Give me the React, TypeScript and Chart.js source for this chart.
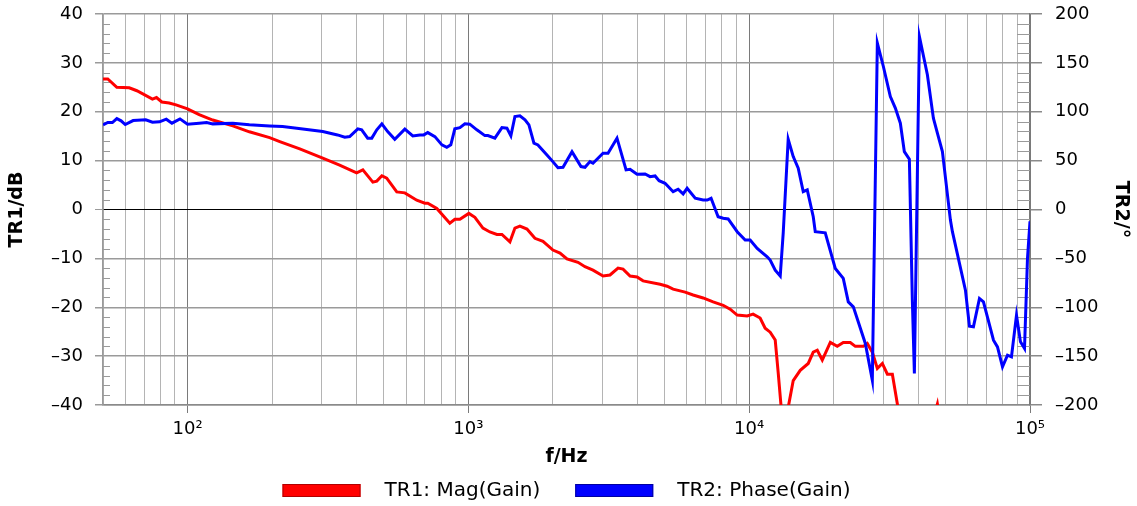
import { useEffect, useRef } from 'react';
import { Chart, registerables } from 'chart.js';

Chart.register(...registerables);

const FONT = "'DejaVu Sans', sans-serif";

// TR1: magnitude (dB) trace
const magFreqHz = [50, 52, 56, 62, 66, 75, 77.5, 81, 86, 91, 100, 110, 123, 145, 166, 196, 213, 251, 303, 348, 400, 421, 457, 472, 492, 512, 556, 594, 655, 700, 717, 772, 859, 895, 933, 1004, 1055, 1127, 1193, 1264, 1317, 1406, 1465, 1526, 1617, 1726, 1844, 2001, 2120, 2245, 2457, 2602, 2779, 3017, 3195, 3412, 3555, 3766, 3988, 4189, 4817, 5102, 5360, 5914, 6314, 6855, 7440, 8079, 8556, 9064, 9837, 10330, 10940, 11400, 11880, 12380, 12690, 13000, 13330, 13770, 14350, 15200, 16230, 16910, 17480, 18210, 19450, 20590, 21630, 22910, 23880, 25490, 26340, 27450, 28600, 29800, 31050, 32350, 33980, 39070, 44190, 46800, 49960, 78490, 100000];
const magDb = [26.7, 26.7, 25.0, 24.9, 24.3, 22.6, 22.9, 22.0, 21.8, 21.4, 20.6, 19.4, 18.3, 17.1, 15.9, 14.7, 13.9, 12.4, 10.5, 9.1, 7.5, 8.1, 5.6, 5.8, 6.9, 6.4, 3.6, 3.4, 1.9, 1.3, 1.3, 0.2, -2.8, -2.0, -2.0, -0.8, -1.6, -3.8, -4.6, -5.1, -5.1, -6.6, -3.8, -3.4, -4.0, -5.9, -6.5, -8.3, -8.9, -10.1, -10.8, -11.7, -12.4, -13.6, -13.4, -12.0, -12.2, -13.6, -13.8, -14.6, -15.3, -15.7, -16.3, -16.9, -17.5, -18.1, -18.9, -19.6, -20.4, -21.6, -21.8, -21.4, -22.2, -24.3, -25.1, -26.7, -33.5, -40.5, -60, -40.5, -35, -32.9, -31.5, -29.2, -28.8, -30.8, -27.2, -28.0, -27.2, -27.2, -28, -28, -27.4, -29.2, -32.5, -31.5, -33.7, -33.7, -41, -55, -45, -39.8, -50, -55, -55];

// TR2: phase (degrees) trace
const phaseFreqHz = [50, 52, 54, 56, 58, 60, 64, 71, 75, 79.5, 84, 88, 94, 100, 110, 117, 123, 145, 166, 196, 218, 245, 303, 342, 363, 378, 404, 417, 438, 453, 472, 492, 516, 547, 594, 634, 672, 694, 717, 760, 805, 838, 866, 895, 933, 972, 1012, 1072, 1145, 1174, 1243, 1317, 1372, 1417, 1465, 1526, 1591, 1643, 1712, 1769, 1905, 1985, 2085, 2173, 2339, 2397, 2518, 2602, 2711, 2779, 3017, 3143, 3383, 3644, 3766, 3988, 4258, 4437, 4623, 4777, 5018, 5360, 5584, 5818, 6012, 6424, 6855, 7086, 7318, 7751, 8079, 8417, 9064, 9676, 10080, 10680, 11590, 11880, 12380, 12900, 13220, 13770, 14350, 14950, 15580, 16100, 16910, 17190, 18660, 20260, 21630, 22540, 23490, 25920, 27450, 28600, 30050, 31820, 33150, 34540, 35690, 37190, 38110, 38750, 40380, 43110, 45290, 46800, 48760, 52070, 52930, 58900, 60860, 62890, 66070, 68270, 74130, 76590, 79810, 83150, 85900, 89520, 92490, 95590, 97960, 100000];
const phaseDeg = [86.6, 89, 89, 93, 90.7, 86.9, 91, 91.7, 89.3, 89.7, 92.4, 88.3, 92.7, 87.3, 88.3, 88.9, 87.6, 88.3, 86.6, 85.5, 84.8, 83.2, 79.7, 76.3, 74, 74.6, 82.5, 81.5, 73, 73, 81.5, 87.6, 79.7, 71.9, 82.2, 75.3, 76.3, 76.3, 78.7, 74.6, 66.1, 63.7, 66.1, 82.5, 83.8, 87.6, 87.3, 81.5, 75.6, 75.6, 73, 83.8, 83.2, 75.3, 95.1, 95.8, 91.7, 86.6, 67.8, 66.1, 55.8, 50, 42.8, 43.2, 59.2, 54.1, 43.9, 43.2, 49, 47.3, 57.6, 57.6, 73, 40.5, 41.2, 36.1, 36.4, 33.6, 34.3, 29.5, 26.8, 18.2, 20.7, 15.9, 21.7, 11.5, 9.7, 9.7, 11.5, -7.4, -9.0, -9.7, -22.7, -31.3, -31.3, -39.8, -48.4, -51.7, -62, -68.1, -24, 71.9, 54.1, 42.2, 18.2, 20, -7.4, -22.7, -23.8, -60.3, -70.5, -94.5, -99.6, -137, -174.7, 170.3, 146.3, 115.6, 103.7, 88.3, 59.2, 51.4, -92.7, -167.8, 177, 137.8, 93.4, 78.1, 59.2, -10.8, -22.7, -82.5, -119.4, -120, -91, -94.5, -133.7, -140.6, -161, -149, -150.8, -108.1, -135.4, -142.2, -50, -12];

// Axis ticks
const xTickValues = [50, 60, 70, 80, 90, 100, 200, 300, 400, 500, 600, 700, 800, 900, 1000, 2000, 3000, 4000, 5000, 6000, 7000, 8000, 9000, 10000, 20000, 30000, 40000, 50000, 60000, 70000, 80000, 90000, 100000];
const decadeValues = [100, 1000, 10000, 100000];
const decadeLabels = ['10²', '10³', '10⁴', '10⁵'];
const magMinorTicks = [-38, -36, -34, -32, -28, -26, -24, -22, -18, -16, -14, -12, -8, -6, -4, -2, 2, 4, 6, 8, 12, 14, 16, 18, 22, 24, 26, 28, 32, 34, 36, 38];
const phaseMinorTicks = [-190, -180, -170, -160, -140, -130, -120, -110, -90, -80, -70, -60, -40, -30, -20, -10, 10, 20, 30, 40, 60, 70, 80, 90, 110, 120, 130, 140, 160, 170, 180, 190];

const MAG_LABEL = 'TR1: Mag(Gain)';
const PHASE_LABEL = 'TR2: Phase(Gain)';

const fmtSigned = (v: number) => (v < 0 ? '\u2013' + Math.abs(v) : String(v));
const isDecade = (v: number) => decadeValues.indexOf(v) >= 0;

const extrasPlugin = {
  id: 'extras',
  beforeDatasetsDraw(chart: any) {
    const { ctx, chartArea, scales } = chart;
    ctx.save();
    ctx.strokeStyle = '#9a9a9a';
    ctx.lineWidth = 1;
    for (const v of magMinorTicks) {
      const py = Math.round(scales.y.getPixelForValue(v)) + 0.5;
      ctx.beginPath();
      ctx.moveTo(chartArea.left, py);
      ctx.lineTo(chartArea.left + 7, py);
      ctx.stroke();
    }
    for (const v of phaseMinorTicks) {
      const py = Math.round(scales.y2.getPixelForValue(v)) + 0.5;
      ctx.beginPath();
      ctx.moveTo(chartArea.right - 13, py);
      ctx.lineTo(chartArea.right, py);
      ctx.stroke();
    }
    ctx.restore();
  },
  afterDraw(chart: any) {
    const { ctx, chartArea } = chart;
    const items = [
      { text: MAG_LABEL, color: '#ff0000', stroke: '#b00000' },
      { text: PHASE_LABEL, color: '#0000ff', stroke: '#0000a0' },
    ];
    const boxW = 78;
    const boxH = 13;
    const gap = 24;
    const itemGap = 35;
    ctx.save();
    ctx.font = `20px ${FONT}`;
    const widths = items.map((it) => ctx.measureText(it.text).width);
    const total = items.reduce((s, _it, i) => s + boxW + gap + widths[i], 0) + itemGap * (items.length - 1);
    let x = (chartArea.left + chartArea.right) / 2 - total / 2;
    const cy = 490.5;
    items.forEach((it, i) => {
      ctx.fillStyle = it.color;
      ctx.fillRect(x, cy - boxH / 2, boxW, boxH);
      ctx.strokeStyle = it.stroke;
      ctx.lineWidth = 1;
      ctx.strokeRect(x + 0.5, cy - boxH / 2 + 0.5, boxW - 1, boxH - 1);
      ctx.fillStyle = '#000';
      ctx.textBaseline = 'middle';
      ctx.textAlign = 'left';
      ctx.fillText(it.text, x + boxW + gap, cy);
      x += boxW + gap + widths[i] + itemGap;
    });
    ctx.restore();
  },
};

const fitVertical = (width: number) => (s: any) => {
  s.width = width;
  s.paddingTop = 0;
  s.paddingBottom = 0;
};

export default function App() {
  const canvasRef = useRef<HTMLCanvasElement | null>(null);

  useEffect(() => {
    const canvas = canvasRef.current;
    if (!canvas) return;
    const chart = new Chart(canvas, {
      type: 'line',
      data: {
        datasets: [
          {
            label: MAG_LABEL,
            data: magFreqHz.map((f, i) => ({ x: f, y: magDb[i] })),
            borderColor: '#ff0000',
            backgroundColor: '#ff0000',
            borderWidth: 3,
            pointRadius: 0,
            tension: 0,
            yAxisID: 'y',
            order: 1,
            clip: 0,
          },
          {
            label: PHASE_LABEL,
            data: phaseFreqHz.map((f, i) => ({ x: f, y: phaseDeg[i] })),
            borderColor: '#0000ff',
            backgroundColor: '#0000ff',
            borderWidth: 3,
            pointRadius: 0,
            tension: 0,
            yAxisID: 'y2',
            order: 0,
            clip: 0,
          },
        ],
      },
      options: {
        responsive: false,
        animation: false,
        devicePixelRatio: 1,
        layout: { padding: { left: 0, right: 0, top: 14, bottom: 37 } },
        plugins: {
          legend: { display: false },
          tooltip: { enabled: false },
        },
        scales: {
          x: {
            type: 'logarithmic',
            position: 'bottom',
            min: 50,
            max: 100000,
            afterBuildTicks: (s: any) => {
              s.ticks = xTickValues.map((v) => ({ value: v, major: isDecade(v) }));
            },
            afterFit: (s: any) => {
              s.height = 64;
              s.paddingLeft = 0;
              s.paddingRight = 0;
            },
            ticks: {
              autoSkip: false,
              maxRotation: 0,
              minRotation: 0,
              padding: 6,
              color: '#000',
              font: { family: FONT, size: 18 },
              callback: (v: any) => {
                const idx = decadeValues.indexOf(Number(v));
                return idx >= 0 ? decadeLabels[idx] : '';
              },
            },
            grid: {
              color: (c: any) => (c.tick && isDecade(c.tick.value) ? '#7a7a7a' : '#b4b4b4'),
              lineWidth: 1,
              tickLength: 8,
              tickColor: (c: any) => (c.tick && isDecade(c.tick.value) ? '#7a7a7a' : 'rgba(0,0,0,0)'),
            },
            border: { display: true, color: '#8a8a8a', width: 1.5 },
            title: {
              display: true,
              text: 'f/Hz',
              color: '#000',
              font: { family: FONT, size: 19, weight: 'bold', lineHeight: 1 },
              padding: { top: 0, bottom: 2.5 },
            },
          },
          y: {
            position: 'left',
            min: -40,
            max: 40,
            afterFit: fitVertical(103),
            ticks: {
              stepSize: 10,
              padding: 12,
              color: '#000',
              font: { family: FONT, size: 18 },
              callback: (v: any) => fmtSigned(Number(v)),
            },
            grid: {
              color: (c: any) => (c.tick && c.tick.value === 0 ? '#000' : '#9a9a9a'),
              lineWidth: (c: any) => (c.tick && c.tick.value === 0 ? 1 : 1.5),
              tickLength: 8,
              tickColor: '#9a9a9a',
            },
            border: { display: true, color: '#9a9a9a', width: 1.5 },
            title: {
              display: true,
              text: 'TR1/dB',
              color: '#000',
              font: { family: FONT, size: 19, weight: 'bold', lineHeight: 1 },
              padding: { top: 8, bottom: 0 },
            },
          },
          y2: {
            position: 'right',
            min: -200,
            max: 200,
            afterFit: fitVertical(107),
            ticks: {
              stepSize: 50,
              padding: 13,
              color: '#000',
              font: { family: FONT, size: 18 },
              callback: (v: any) => fmtSigned(Number(v)),
            },
            grid: {
              drawOnChartArea: false,
              tickLength: 12,
              tickColor: '#8a8a8a',
              lineWidth: 1.5,
            },
            border: { display: true, color: '#7a7a7a', width: 1.5 },
            title: {
              display: true,
              text: 'TR2/°',
              color: '#000',
              font: { family: FONT, size: 19, weight: 'bold', lineHeight: 1 },
              padding: { top: 7, bottom: 0 },
            },
          },
        },
      },
      plugins: [extrasPlugin],
    } as any);
    return () => chart.destroy();
  }, []);

  return (
    <div style={{ position: 'fixed', left: 0, top: 0, width: 1137, height: 506, background: '#fff' }}>
      <canvas ref={canvasRef} width={1137} height={506} style={{ width: 1137, height: 506, display: 'block' }} />
    </div>
  );
}
